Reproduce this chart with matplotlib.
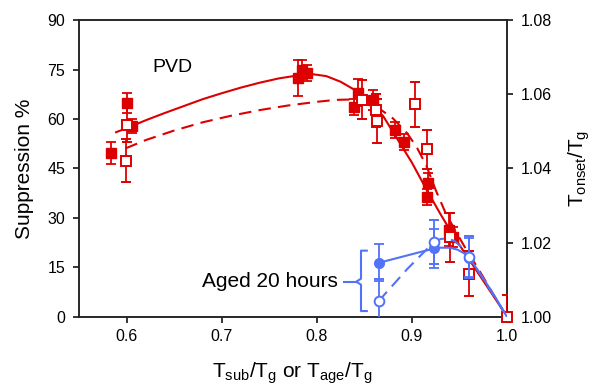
import matplotlib
matplotlib.use("Agg")
import matplotlib.pyplot as plt
from matplotlib.ticker import FormatStrFormatter

plt.rcParams['font.family'] = ['Liberation Sans', 'DejaVu Sans']
plt.rcParams['mathtext.fontset'] = 'custom'
plt.rcParams['mathtext.rm'] = 'Liberation Sans'
plt.rcParams['mathtext.it'] = 'Liberation Sans'

RED = '#DD0000'
BLUE = '#5272F8'

# ---- PVD, suppression % (filled squares, left axis)
sup_x = [0.584, 0.600, 0.606, 0.780, 0.784, 0.790, 0.839, 0.843, 0.859, 0.882, 0.892, 0.916, 0.917, 0.939, 0.943]
sup_y = [49.8, 64.8, 57.9, 72.5, 75.0, 74.0, 63.7, 68.0, 65.8, 56.7, 53.1, 36.3, 40.7, 26.4, 24.3]
sup_err = [3.3, 3.0, 2.0, 5.5, 3.0, 2.5, 2.5, 4.0, 3.0, 2.5, 2.5, 2.5, 3.0, 5.0, 3.0]

# ---- PVD, Tonset/Tg (open squares, right axis)
ton_x = [0.599, 0.601, 0.848, 0.862, 0.863, 0.903, 0.916, 0.940, 0.960, 1.000]
ton_y = [1.0421, 1.0517, 1.0585, 1.0557, 1.0528, 1.0573, 1.0452, 1.0215, 1.0117, 1.0000]
ton_err = [0.0058, 0.0045, 0.0053, 0.0045, 0.0059, 0.0060, 0.0053, 0.0066, 0.0060, 0.0060]

# ---- Aged 20 hours
aged_sup_x = [0.865, 0.9235, 0.960]
aged_sup_y = [16.5, 20.8, 18.0]
aged_sup_err = [5.6, 6.0, 6.0]
aged_ton_x = [0.865, 0.9235, 0.960]
aged_ton_y = [1.0043, 1.0203, 1.0161]
aged_ton_err = [0.0059, 0.0059, 0.0057]

# ---- fitted curves
fit_sup_x = [0.589, 0.600, 0.620, 0.640, 0.660, 0.680, 0.700, 0.720, 0.740, 0.760, 0.780, 0.795,
             0.810, 0.825, 0.840, 0.855, 0.870, 0.885, 0.900, 0.915, 0.930, 0.945, 0.960, 0.975, 0.990, 1.000]
fit_sup_y = [56.0, 57.2, 59.6, 61.8, 63.9, 66.0, 67.8, 69.5, 71.0, 72.3, 73.2, 73.6,
             73.0, 71.3, 68.8, 65.5, 60.8, 53.8, 46.8, 38.8, 31.2, 24.0, 17.5, 11.0, 4.5, 0.0]
fit_ton_x = [0.599, 0.620, 0.650, 0.680, 0.710, 0.740, 0.770, 0.800, 0.820, 0.835, 0.850, 0.865,
             0.880, 0.895, 0.905, 0.915, 0.925, 0.935, 0.945, 0.955, 0.970, 0.985, 1.000]
fit_ton_y = [1.04542, 1.04764, 1.05022, 1.05244, 1.05422, 1.05573, 1.05698, 1.05796, 1.05849, 1.05858,
             1.05787, 1.05627, 1.05351, 1.04951, 1.04578, 1.04089, 1.03422, 1.02827, 1.02356, 1.01911,
             1.01289, 1.00640, 1.00000]
fit_aged_sup_x = [0.865, 0.885, 0.905, 0.920, 0.930, 0.940, 0.948, 0.955, 0.962, 0.970, 0.980, 0.990, 1.000]
fit_aged_sup_y = [16.4, 17.9, 19.4, 20.5, 21.0, 21.0, 20.4, 19.3, 17.2, 13.9, 9.5, 4.9, 0.0]
fit_aged_ton_x = [0.865, 0.895, 0.9235, 0.930, 0.937, 0.945, 0.952, 0.960, 0.970, 0.980, 0.990, 1.000]
fit_aged_ton_y = [1.00427, 1.01289, 1.02027, 1.02098, 1.02124, 1.02044, 1.01884, 1.01609,
                  1.01227, 1.00827, 1.00418, 1.00000]

x_ticks = [0.6, 0.7, 0.8, 0.9, 1.0]
left_ticks = [0, 15, 30, 45, 60, 75, 90]
right_ticks = [1.00, 1.02, 1.04, 1.06, 1.08]

LEFT_LIM = (0, 90)
RIGHT_LIM = (1.0, 1.08)


def to_right(v):
    """map a left-axis value onto the right axis scale (same vertical position)"""
    return RIGHT_LIM[0] + (v - LEFT_LIM[0]) * (RIGHT_LIM[1] - RIGHT_LIM[0]) / (LEFT_LIM[1] - LEFT_LIM[0])


fig = plt.figure(figsize=(6.01, 3.87), dpi=100)
ax = fig.add_axes([0.1314, 0.1809, 0.7122, 0.7674])
ax2 = ax.twinx()

ax.set_xlim(0.55, 1.0)
ax.set_ylim(*LEFT_LIM)
ax2.set_ylim(*RIGHT_LIM)

lw = 1.5
# fits
ax.plot(fit_sup_x, fit_sup_y, color=RED, lw=lw, zorder=2)
ax2.plot(fit_ton_x, fit_ton_y, color=RED, lw=lw, dashes=(6, 3.5), zorder=2)

# PVD data
ax.errorbar(sup_x, sup_y, yerr=sup_err, fmt='s', color=RED, ms=7, mec=RED, mfc=RED,
            elinewidth=1.3, capsize=3.6, capthick=1.3, zorder=3)
eb = ax2.errorbar(ton_x, ton_y, yerr=ton_err, fmt='s', color=RED, ms=6.5, mec=RED, mfc='white', mew=1.4,
                  elinewidth=1.3, capsize=3.6, capthick=1.3, zorder=3)
eb.lines[0].set_clip_on(False)

# Aged
ax2.plot(fit_aged_sup_x, [to_right(v) for v in fit_aged_sup_y], color=BLUE, lw=lw, zorder=4)
ax2.plot(fit_aged_ton_x, fit_aged_ton_y, color=BLUE, lw=lw, dashes=(6, 3.5), zorder=4)
ax2.errorbar(aged_sup_x, [to_right(v) for v in aged_sup_y],
             yerr=[to_right(e) - to_right(0) for e in aged_sup_err], fmt='o', color=BLUE, ms=7,
             mec=BLUE, mfc=BLUE, elinewidth=1.3, capsize=3.6, capthick=1.3, zorder=5)
eb = ax2.errorbar(aged_ton_x, aged_ton_y, yerr=aged_ton_err, fmt='o', color=BLUE, ms=7,
                  mec=BLUE, mfc='white', mew=1.4, elinewidth=1.3, capsize=3.6, capthick=1.3, zorder=6)
eb.lines[0].set_clip_on(False)

# ticks & labels
for a in (ax, ax2):
    for s in a.spines.values():
        s.set_linewidth(1.1)
        s.set_color('#222222')
ax.set_xticks(x_ticks)
ax.xaxis.set_major_formatter(FormatStrFormatter('%.1f'))
ax.set_yticks(left_ticks)
ax2.set_yticks(right_ticks)
ax2.yaxis.set_major_formatter(FormatStrFormatter('%.2f'))
ax.tick_params(axis='both', direction='out', length=4, width=1.1, labelsize=11.5, pad=5)
ax.tick_params(axis='y', pad=6)
ax2.tick_params(axis='y', direction='out', length=4, width=1.1, labelsize=11.5, pad=6)

ax.set_ylabel('Suppression %', fontsize=15)
ax.yaxis.set_label_coords(-0.105, 0.5)
ax.set_xlabel(r'T$_{\mathregular{sub}}$/T$_{\mathregular{g}}$ or T$_{\mathregular{age}}$/T$_{\mathregular{g}}$', fontsize=15)
ax.xaxis.set_label_coords(0.498, -0.148)
ax2.set_ylabel(r'T$_{\mathregular{onset}}$/T$_{\mathregular{g}}$', fontsize=15, rotation=90)
ax2.yaxis.set_label_coords(1.138, 0.5)

ax.text(0.6484, 75.5, 'PVD', fontsize=14, ha='center', va='center')
ax.text(0.8226, 10.7, 'Aged 20 hours', fontsize=15, ha='right', va='center')

# bracket (annotation)
bx0, bx1, bxc = 0.8465, 0.8526, 0.8415
ax.plot([bx1, bx0, bx0, bxc, bx0, bx0, bx1], [20.1, 20.1, 11.6, 10.7, 9.8, 1.8, 1.8],
        color=BLUE, lw=1.5, clip_on=False, zorder=4)
ax.plot([0.8287, bxc], [10.7, 10.7], color=BLUE, lw=1.5, zorder=4)

fig.savefig('out.png', dpi=100)
